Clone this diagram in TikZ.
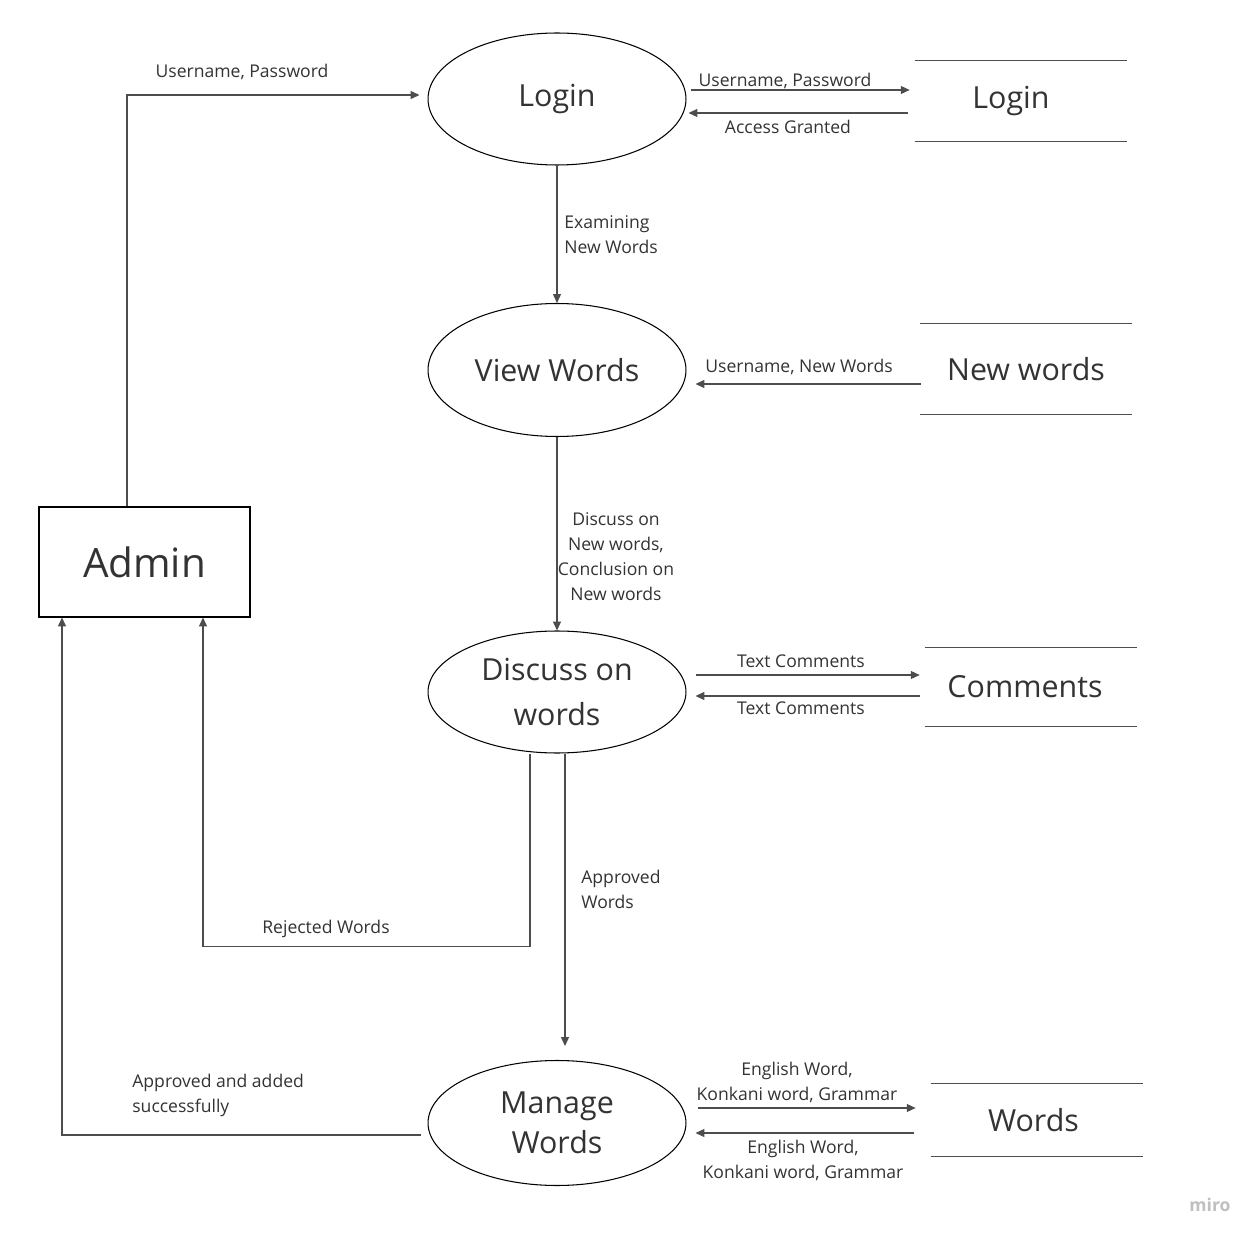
\documentclass[tikz,border=0pt]{standalone}
\usepackage{fontspec}
\setmainfont{Open Sans}
\usetikzlibrary{arrows.meta,positioning,shapes.geometric}
\definecolor{inkgray}{HTML}{333333}
\definecolor{linegray}{HTML}{4D4D4D}

\begin{document}
\begin{tikzpicture}[
    x=0.02cm, y=-0.02cm,
    process/.style={draw=black, ellipse, line width=0.6pt, minimum width=5.16cm, minimum height=2.64cm, inner sep=0pt, align=center, text=inkgray, font=\fontsize{17.3}{24}\selectfont},
    store/.style={minimum width=4.24cm, minimum height=1.6cm, inner sep=0pt, text=inkgray, font=\fontsize{17.3}{20}\selectfont},
    storeline/.style={draw=linegray, line width=0.6pt},
    flow/.style={draw=linegray, line width=0.6pt, -{Triangle[length=5pt,width=4.5pt]}},
    lbl/.style={text=inkgray, font=\fontsize{10}{14.2}\selectfont, inner sep=0pt},
]
\useasboundingbox[fill=white] (0,0) rectangle (1259,1240);

% Admin entity
\node[draw=black, line width=0.6pt, minimum width=4.22cm, minimum height=2.2cm, text=inkgray, font=\fontsize{23}{26}\selectfont] (admin) at (144.5,562) {Admin};

% Processes
\node[process] (login) at (557,99) {Login};
\node[process, minimum height=2.66cm] (view) at (557,370) {View Words};
\node[process, minimum height=2.44cm, font=\fontsize{17.3}{26}\selectfont] (discuss) at (557,692) {Discuss on\\words};
\node[process, minimum height=2.5cm, font=\fontsize{17.3}{23}\selectfont] (manage) at (557,1123) {Manage\\Words};

% Data stores
\node[store] (slogin) at (1021,101) {\hspace*{-0.4cm}Login};
\node[store, minimum height=1.8cm] (snew) at (1026,369) {New words};
\node[store, minimum height=1.56cm] (scomm) at (1031,687) {\hspace*{-0.24cm}Comments};
\node[store, minimum height=1.44cm] (swords) at (1037,1120) {\hspace*{-0.14cm}Words};
\foreach \s in {slogin,snew,scomm,swords} {
    \draw[storeline] (\s.north west) -- (\s.north east);
    \draw[storeline] (\s.south west) -- (\s.south east);
}

% Flows
\draw[flow] ([shift={(-17.5,0)}]admin.north) |- ([shift={(-8,-4)}]login.west);
\draw[flow] ([shift={(4,-9)}]login.east) -- ([shift={(-5,-11)}]slogin.west);
\draw[flow] ([shift={(-7,12)}]slogin.west) -- ([shift={(2,14)}]login.east);
\draw[flow] (login.south) -- (view.north);
\draw[flow] ([shift={(1,15)}]snew.west) -- ([shift={(9,14)}]view.east);
\draw[flow] (view.south) -- (discuss.north);
\draw[flow] ([shift={(9,-17)}]discuss.east) -- ([shift={(-5,-12)}]scomm.west);
\draw[flow] ([shift={(-5,9)}]scomm.west) -- ([shift={(9,4)}]discuss.east);
\draw[flow] ([shift={(-27,0)}]discuss.south) -- ++(0,193) -| ([shift={(58.5,0)}]admin.south);
\draw[flow] ([shift={(8,0)}]discuss.south) -- ([shift={(8,-14)}]manage.north);
\draw[flow] ([shift={(-7,12)}]manage.west) -| ([shift={(-82.5,0)}]admin.south);
\draw[flow] ([shift={(11,-15)}]manage.east) -- ([shift={(-15,-12)}]swords.west);
\draw[flow] ([shift={(-17,13)}]swords.west) -- ([shift={(9,10)}]manage.east);

% Flow labels
\node[lbl] (ladmin) at (242,72) {Username, Password};
\node[lbl] (lcred) at (785,81) {Username, Password};
\node[lbl] (lgrant) at (788,127) {Access Granted};
\node[lbl, anchor=west, align=left] (lexam) at (564,235) {Examining\\New Words};
\node[lbl] (lnew) at (799,367) {Username, New Words};
\node[lbl, align=center] (ldisc) at (616,557) {Discuss on\\New words,\\Conclusion on\\New words};
\node[lbl] (lcout) at (801,661) {Text Comments};
\node[lbl] (lcin) at (801,708) {Text Comments};
\node[lbl] (lrej) at (326,929) {Rejected Words};
\node[lbl, anchor=west, align=left] (lappr) at (581,889) {Approved\\Words};
\node[lbl, anchor=west, align=left] (ladded) at (132,1095) {Approved and added\\successfully};
\node[lbl, align=center] (lwout) at (797,1082) {English Word,\\Konkani word, Grammar};
\node[lbl, align=center] (lwin) at (803,1160) {English Word,\\Konkani word, Grammar};

\node[text=black!25, font=\fontsize{10}{12}\selectfont\bfseries] (miro) at (1210,1205) {miro};
\end{tikzpicture}
\end{document}
